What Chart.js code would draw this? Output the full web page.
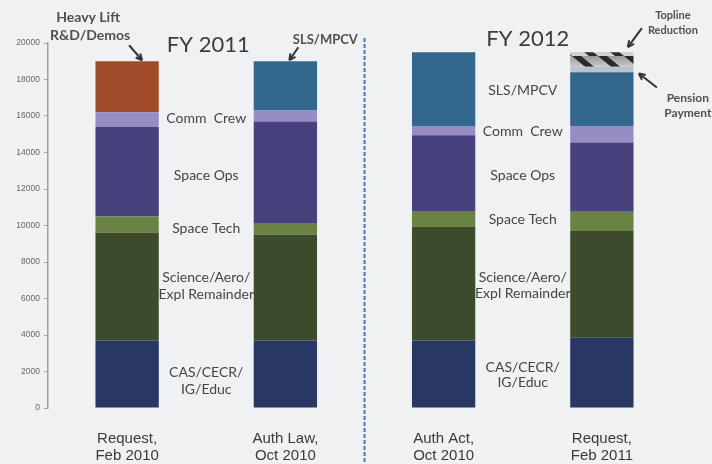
<!DOCTYPE html>
<html>
<head>
<meta charset="utf-8">
<script src="https://cdn.jsdelivr.net/npm/chart.js@4/dist/chart.umd.min.js"></script>
<style>
  body { margin: 0; background: #eff1f3; }
  #wrap { width: 712px; height: 464px; }
</style>
</head>
<body>
<div id="wrap"><canvas id="budget-chart" width="712" height="464"></canvas></div>
<script>
// 카테고리 (x축 라벨)
const categories = [
  ["Request,", "Feb 2010"],
  ["Auth Law,", "Oct 2010"],
  ["Auth Act,", "Oct 2010"],
  ["Request,", "Feb 2011"],
];

// 각 항목 값 ($M, 그림에서 읽음)
const casEduc = [3700, 3700, 3700, 3850];
const scienceAero = [5900, 5800, 6250, 5850];
const spaceTech = [900, 600, 800, 1050];
const spaceOps = [4900, 5600, 4200, 3800];
const commCrew = [800, 600, 500, 900];
const heavyLift = [2800, 0, 0, 0];
const slsMpcv = [0, 2700, 4050, 2950];
const pensionPayment = [0, 0, 0, 300];
const toplineReduction = [0, 0, 0, 800];

const yTicks = [0, 2000, 4000, 6000, 8000, 10000, 12000, 14000, 16000, 18000, 20000];

// 토프라인 감소용 빗금 패턴
function makeHatch() {
  const c = document.createElement("canvas");
  c.width = 26;
  c.height = 14;
  const g = c.getContext("2d");
  const grad = g.createLinearGradient(0, 0, 0, 14);
  grad.addColorStop(0, "#9a9a9a");
  grad.addColorStop(1, "#d8d8d8");
  g.fillStyle = grad;
  g.fillRect(0, 0, 26, 14);
  g.fillStyle = "#2a2a2a";
  for (let off = -26; off <= 26; off += 26) {
    g.beginPath();
    g.moveTo(off + 0, 0);
    g.lineTo(off + 9, 0);
    g.lineTo(off + 26, 14);
    g.lineTo(off + 17, 14);
    g.closePath();
    g.fill();
  }
  return g.createPattern(c, "repeat");
}

function drawArrow(ctx, x1, y1, x2, y2) {
  const ang = Math.atan2(y2 - y1, x2 - x1);
  ctx.beginPath();
  ctx.moveTo(x1, y1);
  ctx.lineTo(x2, y2);
  ctx.stroke();
  ctx.beginPath();
  ctx.moveTo(x2, y2);
  ctx.lineTo(x2 - 7 * Math.cos(ang - 0.45), y2 - 7 * Math.sin(ang - 0.45));
  ctx.moveTo(x2, y2);
  ctx.lineTo(x2 - 7 * Math.cos(ang + 0.45), y2 - 7 * Math.sin(ang + 0.45));
  ctx.stroke();
}

function total(i) {
  return casEduc[i] + scienceAero[i] + spaceTech[i] + spaceOps[i] + commCrew[i] +
    heavyLift[i] + slsMpcv[i];
}

const labelFont = "Lato, 'Open Sans', sans-serif";

// 주석, 구분선, 화살표
const annotations = {
  id: "annotations",
  afterDatasetsDraw(chart) {
    const ctx = chart.ctx;
    const x = chart.scales.x;
    const y = chart.scales.y;
    const cx = (i) => x.getPixelForValue(i);
    ctx.save();

    // FY 구분 점선
    const sepX = (cx(1) + cx(2)) / 2;
    ctx.strokeStyle = "#4f74b3";
    ctx.lineWidth = 2;
    ctx.setLineDash([4, 2]);
    ctx.beginPath();
    ctx.moveTo(sepX, 38);
    ctx.lineTo(sepX, 464);
    ctx.stroke();
    ctx.setLineDash([]);

    ctx.fillStyle = "#3c3c3c";
    ctx.textAlign = "center";
    ctx.textBaseline = "middle";
    ctx.font = "22px " + labelFont;
    ctx.fillText("FY 2011", (cx(0) + cx(1)) / 2 + 2, 45);
    ctx.fillText("FY 2012", (cx(2) + cx(3)) / 2 + 5, 39);

    // 항목 라벨
    ctx.font = "14px " + labelFont;
    ctx.fillStyle = "#454545";
    const midL = (cx(0) + cx(1)) / 2;
    const midR = (cx(2) + cx(3)) / 2;
    const left = [
      ["Comm  Crew", 118], ["Space Ops", 175], ["Space Tech", 228],
      ["Science/Aero/", 277], ["Expl Remainder", 294], ["CAS/CECR/", 372], ["IG/Educ", 389],
    ];
    const right = [
      ["SLS/MPCV", 90], ["Comm  Crew", 131], ["Space Ops", 175], ["Space Tech", 219],
      ["Science/Aero/", 277], ["Expl Remainder", 293], ["CAS/CECR/", 367], ["IG/Educ", 382],
    ];
    left.forEach(([t, py]) => ctx.fillText(t, midL, py));
    right.forEach(([t, py]) => ctx.fillText(t, midR, py));

    // 상단 주석
    ctx.font = "bold 14px " + labelFont;
    ctx.fillStyle = "#505050";
    ctx.fillText("Heavy Lift", cx(0) - 39, 17);
    ctx.fillText("R&D/Demos", cx(0) - 37, 35);
    ctx.font = "bold 13px " + labelFont;
    ctx.fillText("SLS/MPCV", cx(1) + 40, 40);
    ctx.font = "bold 11px " + labelFont;
    ctx.fillText("Topline", cx(3) + 71, 15);
    ctx.fillText("Reduction", cx(3) + 71, 30);
    ctx.font = "bold 12px " + labelFont;
    ctx.fillText("Pension", cx(3) + 86, 98);
    ctx.fillText("Payment", cx(3) + 86, 113);

    // 화살표
    ctx.strokeStyle = "#333";
    ctx.lineWidth = 2;
    const top0 = y.getPixelForValue(total(0));
    drawArrow(ctx, cx(0) + 2, top0 - 16, cx(0) + 15, top0 - 1);
    const top1 = y.getPixelForValue(total(1));
    drawArrow(ctx, cx(1) + 13, top1 - 14, cx(1) + 4, top1 - 1);
    const top3 = y.getPixelForValue(total(3) + pensionPayment[3] + toplineReduction[3]);
    drawArrow(ctx, cx(3) + 40, top3 - 24, cx(3) + 26, top3 - 5);
    const pens = y.getPixelForValue(total(3) + pensionPayment[3] / 2);
    drawArrow(ctx, cx(3) + 55, pens + 18, cx(3) + 37, pens + 4);

    ctx.restore();
  },
};

const ctx = document.getElementById("budget-chart").getContext("2d");
const ds = (label, data, color) => ({
  label, data, backgroundColor: color, borderWidth: 0,
  barPercentage: 0.4, categoryPercentage: 1,
});

new Chart(ctx, {
  type: "bar",
  data: {
    labels: categories,
    datasets: [
      ds("CAS/CECR/IG/Educ", casEduc, "#283764"),
      ds("Science/Aero/Expl Remainder", scienceAero, "#3c4b2a"),
      ds("Space Tech", spaceTech, "#6a8242"),
      ds("Space Ops", spaceOps, "#47427e"),
      ds("Comm Crew", commCrew, "#978dc4"),
      ds("Heavy Lift R&D/Demos", heavyLift, "#a04c28"),
      ds("SLS/MPCV", slsMpcv, "#33678d"),
      ds("Pension Payment", pensionPayment, "#b7c4d0"),
      ds("Topline Reduction", toplineReduction, makeHatch()),
    ],
  },
  options: {
    responsive: false,
    animation: false,
    layout: { padding: { top: 43, right: 31, bottom: 0, left: 0 } },
    plugins: {
      legend: { display: false },
      tooltip: { enabled: false },
    },
    scales: {
      x: {
        stacked: true,
        afterFit: (s) => { s.height = 56; },
        grid: { display: false },
        border: { display: false },
        ticks: {
          color: "#3a3a3a",
          padding: 15,
          maxRotation: 0,
          font: { family: "'Liberation Sans', Arial, sans-serif", size: 15, lineHeight: 1.1 },
        },
      },
      y: {
        stacked: true,
        min: 0,
        max: 20000,
        afterFit: (s) => { s.width = 48; },
        afterBuildTicks: (s) => { s.ticks = yTicks.map((v) => ({ value: v })); },
        grid: { drawOnChartArea: false, drawTicks: true, tickLength: 4, color: "#a0a0a0" },
        border: { display: true, color: "#a0a0a0", width: 1.5 },
        ticks: {
          color: "#666",
          padding: 4,
          font: { family: "'Liberation Sans', Arial, sans-serif", size: 8.5 },
          callback: (v) => String(v),
        },
      },
    },
  },
  plugins: [annotations],
});
</script>
</body>
</html>
